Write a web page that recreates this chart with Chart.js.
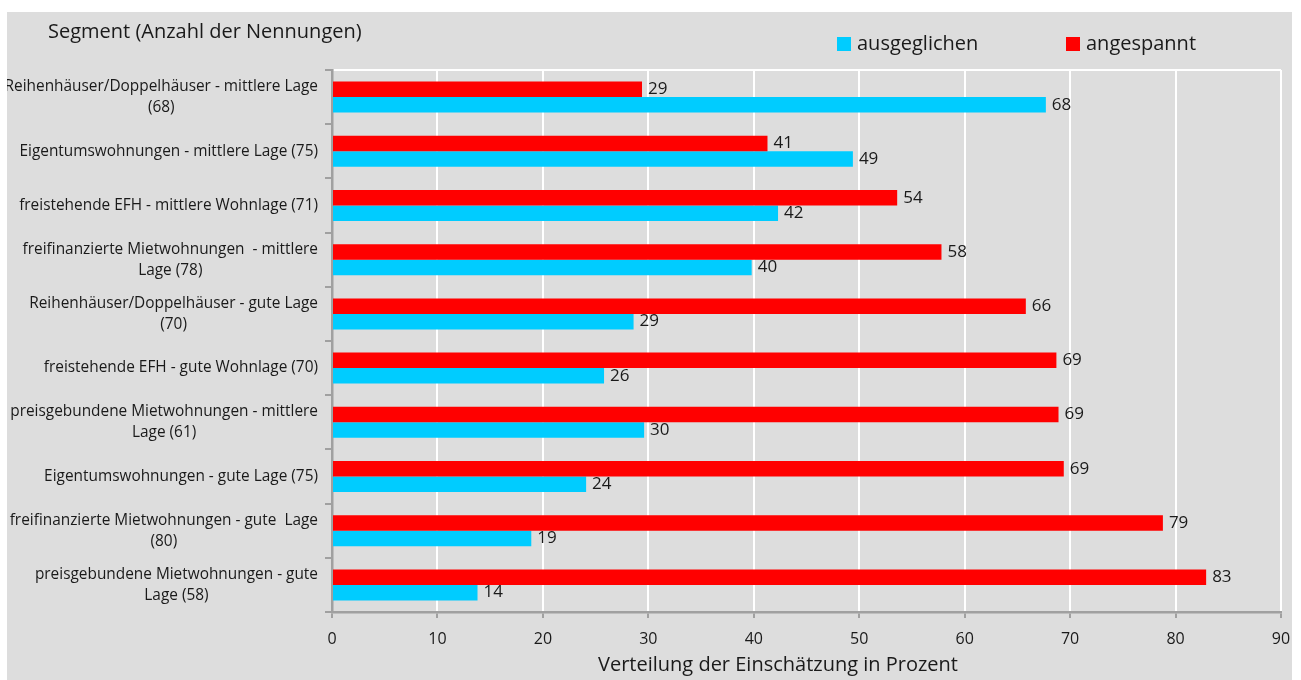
<!DOCTYPE html>
<html>
<head>
<meta charset="utf-8">
<script src="https://cdn.jsdelivr.net/npm/chart.js@4.4.1/dist/chart.umd.min.js"></script>
<style>
  html, body { margin: 0; padding: 0; background: #ffffff; }
  #wrap { position: absolute; left: 7px; top: 12px; width: 1285px; height: 668px; background: #dddddd; }
</style>
</head>
<body>
<div id="wrap"><canvas id="chart" width="1285" height="668"></canvas></div>
<script>
'use strict';

// Segments, top to bottom (line breaks as in the original)
const segments = [
    ['Reihenhäuser/Doppelhäuser - mittlere Lage', '(68)'],
    ['Eigentumswohnungen - mittlere Lage (75)'],
    ['freistehende EFH - mittlere Wohnlage (71)'],
    ['freifinanzierte Mietwohnungen  - mittlere', 'Lage (78)'],
    ['Reihenhäuser/Doppelhäuser - gute Lage', '(70)'],
    ['freistehende EFH - gute Wohnlage (70)'],
    ['preisgebundene Mietwohnungen - mittlere', 'Lage (61)'],
    ['Eigentumswohnungen - gute Lage (75)'],
    ['freifinanzierte Mietwohnungen - gute  Lage', '(80)'],
    ['preisgebundene Mietwohnungen - gute', 'Lage (58)']
];

// Share of answers in percent
const angespannt = [29.4, 41.3, 53.6, 57.8, 65.8, 68.7, 68.9, 69.4, 78.8, 82.9];
const ausgeglichen = [67.7, 49.4, 42.3, 39.8, 28.6, 25.8, 29.6, 24.1, 18.9, 13.8];

const xTicks = [0, 10, 20, 30, 40, 50, 60, 70, 80, 90];

const TEXT = '#1a1a1a';
const AXIS = '#a0a0a0';
const FONT = 'Open Sans';

// Category labels: right aligned block, lines centred against each other
const segmentLabels = {
    id: 'segmentLabels',
    afterDraw(chart) {
        const ctx = chart.ctx;
        const y = chart.scales.y;
        const right = y.right - 14;
        const lh = 21;
        ctx.save();
        ctx.font = '15.4px "' + FONT + '"';
        ctx.fillStyle = TEXT;
        ctx.textAlign = 'center';
        ctx.textBaseline = 'middle';
        segments.forEach((lines, i) => {
            const w = Math.max(...lines.map(l => ctx.measureText(l).width));
            const cx = right - w / 2;
            const cy = y.getPixelForTick(i);
            lines.forEach((l, k) => {
                ctx.fillText(l, cx, cy + (k - (lines.length - 1) / 2) * lh);
            });
        });
        ctx.restore();
    }
};

// Value labels next to bar ends
const valueLabels = {
    id: 'valueLabels',
    afterDatasetsDraw(chart) {
        const ctx = chart.ctx;
        ctx.save();
        ctx.font = '17px "' + FONT + '"';
        ctx.fillStyle = TEXT;
        ctx.textAlign = 'left';
        ctx.textBaseline = 'middle';
        chart.data.datasets.forEach((ds, di) => {
            chart.getDatasetMeta(di).data.forEach((bar, i) => {
                ctx.fillText(Math.round(ds.data[i]), bar.x + 6, bar.y);
            });
        });
        ctx.restore();
    }
};

// Heading, legend and axis title
const header = {
    id: 'header',
    afterDraw(chart) {
        const ctx = chart.ctx;
        ctx.save();
        ctx.font = '20px "' + FONT + '"';
        ctx.fillStyle = TEXT;
        ctx.textBaseline = 'middle';
        ctx.fillText('Segment (Anzahl der Nennungen)', 41, 20);
        const pos = [830, 1059];
        const order = [1, 0];
        order.forEach((di, k) => {
            const ds = chart.data.datasets[di];
            ctx.fillStyle = ds.backgroundColor;
            ctx.fillRect(pos[k], 25, 14, 14);
            ctx.fillStyle = TEXT;
            ctx.fillText(ds.label, pos[k] + 20, 32);
        });
        ctx.textAlign = 'center';
        ctx.fillText('Verteilung der Einschätzung in Prozent', 771, 653);
        ctx.restore();
    }
};

new Chart(document.getElementById('chart'), {
    type: 'bar',
    data: {
        labels: segments.map(s => s.join(' ')),
        datasets: [{
            label: 'angespannt',
            data: angespannt,
            backgroundColor: '#ff0000',
            categoryPercentage: 0.572,
            barPercentage: 1
        }, {
            label: 'ausgeglichen',
            data: ausgeglichen,
            backgroundColor: '#00ccff',
            categoryPercentage: 0.572,
            barPercentage: 1
        }]
    },
    options: {
        indexAxis: 'y',
        responsive: false,
        animation: false,
        layout: { padding: { top: 58, right: 11, left: 0, bottom: 0 } },
        plugins: {
            legend: { display: false },
            tooltip: { enabled: false }
        },
        scales: {
            x: {
                min: 0,
                max: 90,
                afterBuildTicks(scale) {
                    scale.ticks = xTicks.map(v => ({ value: v }));
                },
                afterFit(scale) {
                    scale.height = 68;
                    scale.paddingLeft = 0;
                    scale.paddingRight = 0;
                },
                grid: {
                    color: '#ffffff',
                    lineWidth: 2,
                    tickColor: AXIS,
                    tickLength: 6
                },
                border: { color: AXIS, width: 2.5 },
                ticks: {
                    color: TEXT,
                    font: { family: FONT, size: 16 },
                    padding: 12,
                    maxRotation: 0
                }
            },
            y: {
                afterFit(scale) { scale.width = 325; },
                grid: {
                    color: ctx => ctx.index === 0 ? '#ffffff' : 'rgba(0,0,0,0)',
                    lineWidth: 2,
                    tickColor: AXIS,
                    tickLength: 7
                },
                border: { color: AXIS, width: 2.5 },
                ticks: { display: false }
            }
        }
    },
    plugins: [segmentLabels, valueLabels, header]
});
</script>
</body>
</html>
